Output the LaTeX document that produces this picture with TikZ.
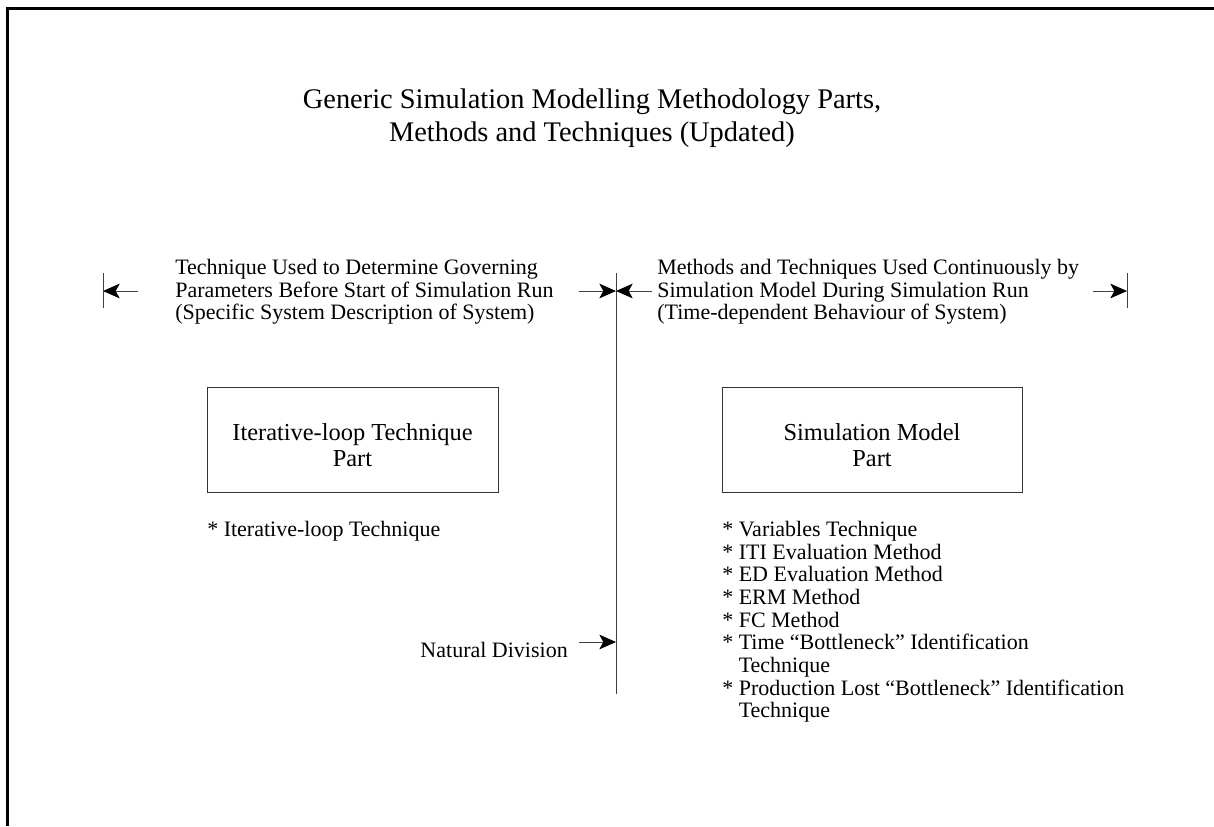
\documentclass[tikz,border=0pt]{standalone}
\usepackage{fontspec}
\setmainfont{Liberation Serif}
\usetikzlibrary{arrows.meta,positioning}

\begin{document}
\begin{tikzpicture}[x=0.75pt,y=-0.75pt]
        \tikzstyle{title} = [align=center, inner sep=0pt, font=\fontsize{21.3}{24.75}\selectfont];
        \tikzstyle{heading} = [align=left, inner sep=0pt, anchor=west, font=\fontsize{16.5}{17}\selectfont];
        \tikzstyle{partbox} = [draw=black!80, line width=0.75pt, minimum height=78.75pt];
        \tikzstyle{parttext} = [align=center, inner sep=0pt, font=\fontsize{18.3}{19.5}\selectfont];
        \tikzstyle{list} = [align=left, inner sep=0pt, font=\fontsize{16.5}{17}\selectfont];
        \tikzstyle{rule} = [draw=black!75, line width=0.75pt];
        \tikzstyle{dim} = [rule, -{Stealth[length=12.5pt,width=11pt,inset=3pt,color=black]}];
        \useasboundingbox (0,0) rectangle (1214,826);
        \draw[line width=2.5pt] (7.5,826) -- (7.5,8.5) -- (1214,8.5);
        \node[title](title) at (592,118) {Generic Simulation Modelling Methodology Parts,\\Methods and Techniques (Updated)};
        \node[heading](before) at (175,292) {Technique Used to Determine Governing\\Parameters Before Start of Simulation Run\\(Specific System Description of System)};
        \node[heading](during) at (657,292) {Methods and Techniques Used Continuously by\\Simulation Model During Simulation Run\\(Time-dependent Behaviour of System)};
        \coordinate(divtop) at (616,273);
        \coordinate(divbot) at (616,694);
        \coordinate(divmid) at (616,291);
        \coordinate(divnat) at (616,642);
        \coordinate(ltop) at (103,273);
        \coordinate(lbot) at (103,308);
        \coordinate(lmid) at (103,291);
        \coordinate(rtop) at (1127,273);
        \coordinate(rbot) at (1127,308);
        \coordinate(rmid) at (1127,291);
        \coordinate(la) at (138,291);
        \coordinate(ma) at (579,291);
        \coordinate(mb) at (652,291);
        \coordinate(ra) at (1093,291);
        \coordinate(na) at (579,642);
        \path[rule] (divtop) -- (divbot);
        \path[rule] (ltop) -- (lbot);
        \path[rule] (rtop) -- (rbot);
        \draw[dim] (la) -- (lmid);
        \draw[dim] (ma) -- (divmid);
        \draw[dim] (mb) -- (divmid);
        \draw[dim] (ra) -- (rmid);
        \node[partbox, minimum width=218.25pt](loop) at (352.5,439.5) {};
        \node[partbox, minimum width=225pt](model) at (872,439.5) {};
        \node[parttext](looptext) at ([yshift=-4.5pt]loop.center) {Iterative-loop Technique\\Part};
        \node[parttext](modeltext) at ([yshift=-4.5pt]model.center) {Simulation Model\\Part};
        \node[list, anchor=north west](looplist) at (207,521) {* Iterative-loop Technique};
        \node[list, anchor=north west](modellist) at (722,521) {* Variables Technique\\* ITI Evaluation Method\\* ED Evaluation Method\\* ERM Method\\* FC Method\\* Time “Bottleneck” Identification\\\hphantom{*~}Technique\\* Production Lost “Bottleneck” Identification\\\hphantom{*~}Technique};
        \node[list, anchor=east](natural) at (568,650) {Natural Division};
        \draw[dim] (na) -- (divnat);
\end{tikzpicture}
\end{document}
